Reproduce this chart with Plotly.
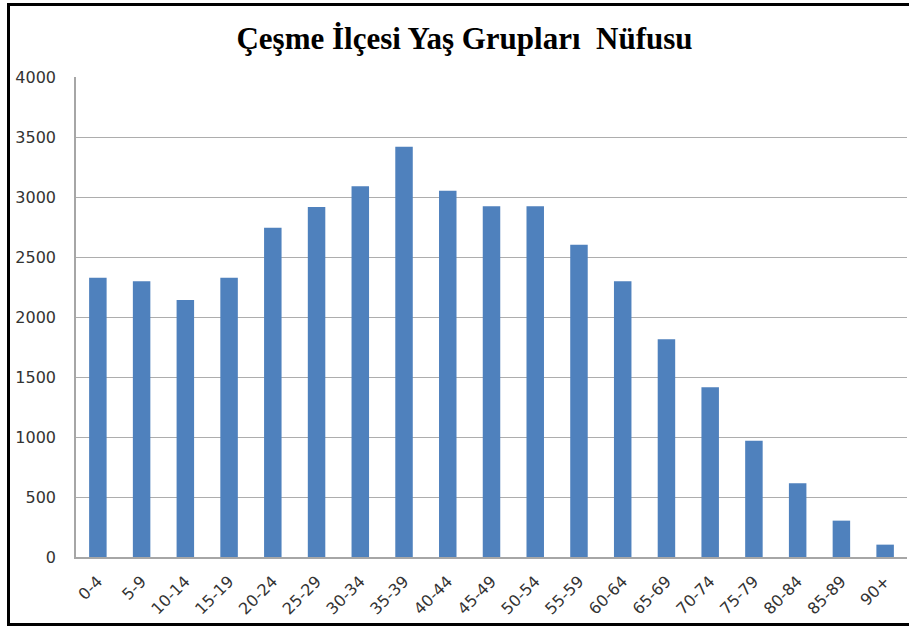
import plotly.graph_objects as go

age_groups = ["0-4", "5-9", "10-14", "15-19", "20-24", "25-29", "30-34", "35-39",
              "40-44", "45-49", "50-54", "55-59", "60-64", "65-69", "70-74",
              "75-79", "80-84", "85-89", "90+"]
population = [2328, 2297, 2142, 2328, 2744, 2917, 3089, 3419, 3053, 2922, 2922,
              2603, 2297, 1814, 1414, 969, 614, 303, 103]
y_ticks = [0, 500, 1000, 1500, 2000, 2500, 3000, 3500, 4000]
title_text = "Çeşme İlçesi Yaş Grupları\u00a0 Nüfusu"

W, H = 909, 627
L, R, T, B = 76, 2, 77, 70
pw, ph = W - L - R, H - T - B

def px_x(p):
    return (p - L) / pw

def px_y(p):
    return (H - B - p) / ph

fig = go.Figure(go.Bar(
    x=age_groups, y=population,
    marker=dict(color="#4f81bd", line=dict(width=0)),
    hoverinfo="x+y",
))

tick_font = dict(family="DejaVu Sans", size=16, color="#333333")

fig.update_layout(
    width=W, height=H,
    margin=dict(l=L, r=R, t=T, b=B, pad=0),
    paper_bgcolor="white", plot_bgcolor="white",
    bargap=0.6,
    showlegend=False,
    title=dict(text=title_text, x=0.511, xref="container", xanchor="center",
               y=1 - 38 / H, yref="container", yanchor="middle",
               font=dict(family="Liberation Serif", size=31, color="black", weight="bold")),
    xaxis=dict(type="category", tickangle=-45, tickfont=tick_font,
               showline=True, linecolor="#a6a6a6", linewidth=1.5,
               showgrid=False, ticks="", ticklabelstandoff=7, fixedrange=True),
    yaxis=dict(range=[0, 4000], tickvals=y_ticks, tickfont=tick_font,
               showline=True, linecolor="#a6a6a6", linewidth=1.5,
               showgrid=True, gridcolor="#adadad", gridwidth=1.4,
               zeroline=False, ticks="", ticklabelstandoff=15, fixedrange=True),
    shapes=[
        dict(type="line", xref="paper", yref="paper",
             x0=px_x(7), x1=px_x(910), y0=px_y(4.5), y1=px_y(4.5),
             line=dict(color="black", width=3)),
        dict(type="line", xref="paper", yref="paper",
             x0=px_x(8.5), x1=px_x(8.5), y0=px_y(3), y1=px_y(626),
             line=dict(color="black", width=3)),
        dict(type="line", xref="paper", yref="paper",
             x0=px_x(7), x1=px_x(910), y0=px_y(624.5), y1=px_y(624.5),
             line=dict(color="black", width=3)),
    ],
)

fig.write_html(
    "out.html",
    config={"displayModeBar": False},
    post_script="document.body.style.margin='0';document.body.style.overflow='hidden';",
)
